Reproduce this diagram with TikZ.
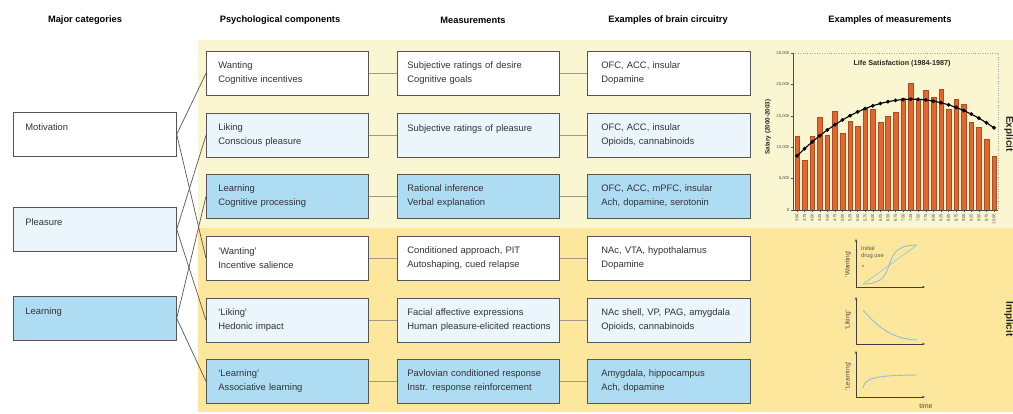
\documentclass[tikz,border=0pt]{standalone}
\usepackage{fontspec}
\setmainfont{Liberation Sans}
\usetikzlibrary{arrows.meta}
\definecolor{ylight}{HTML}{FBF6D2}
\definecolor{ydark}{HTML}{FCE79C}
\definecolor{blight}{HTML}{EAF5FC}
\definecolor{bmid}{HTML}{AEDCF2}
\definecolor{boxline}{HTML}{555555}
\definecolor{txt}{HTML}{333333}
\definecolor{barc}{HTML}{E4652D}
\definecolor{curvec}{HTML}{8DC0E3}
\definecolor{linkc}{HTML}{5E5550}
\definecolor{rowlink}{HTML}{A09888}
\begin{document}
\begin{tikzpicture}[x=1pt,y=-1pt,
  box/.style={draw=boxline, line width=0.7pt, minimum width=162pt, minimum height=44pt,
    text width=138pt, align=left, inner xsep=12pt, inner ysep=0pt, anchor=north west,
    font=\fontsize{9.4}{14}\selectfont, text=txt},
  wbox/.style={box, fill=white},
  lbox/.style={box, fill=blight},
  mbox/.style={box, fill=bmid},
  colc/.style={minimum width=163pt, text width=139pt},
  colm/.style={inner xsep=10pt, text width=142pt},
  colb/.style={minimum width=163pt, inner xsep=14pt, text width=135pt},
  head/.style={font=\bfseries\fontsize{9.3}{11}\selectfont, text=black},
  side/.style={font=\bfseries\fontsize{10}{12}\selectfont, text=black!85, rotate=-90},
  link/.style={draw=linkc, line width=0.7pt},
  rlink/.style={draw=rowlink, line width=0.6pt},
  tiny/.style={font=\fontsize{4.2}{5}\selectfont, text=black!70, inner sep=0.5pt},
  glabel/.style={font=\fontsize{6.5}{7}\selectfont, text=black!70, inner sep=0.5pt},
  gaxis/.style={draw=black!75, line width=0.6pt, -{Stealth[length=3pt,width=2.4pt]}},
  gcurve/.style={draw=curvec, line width=0.9pt},
]
\useasboundingbox (0,0) rectangle (1013,413);
\fill[white] (0,0) rectangle (1013,413);
% backgrounds
\fill[ylight] (198,40) rectangle (1013,228);
\fill[ydark] (198,228) rectangle (1013,412);

% headers
\node[head] (h1) at (85,20) {Major categories};
\node[head] (h2) at (280,20) {Psychological components};
\node[head] (h3) at (473,20) {Measurements};
\node[head] (h4) at (668,20) {Examples of brain circuitry};
\node[head] (h5) at (890,20) {Examples of measurements};

% major categories
\node[wbox, colc] (c1) at (13,112) {Motivation\\\mbox{}};
\node[lbox, colc] (c2) at (13,207) {Pleasure\\\mbox{}};
\node[mbox, colc] (c3) at (13,296) {Learning\\\mbox{}};

% psychological components
\node[wbox] (p1) at (206,51) {Wanting\\Cognitive incentives};
\node[lbox] (p2) at (206,113) {Liking\\Conscious pleasure};
\node[mbox] (p3) at (206,174) {Learning\\Cognitive processing};
\node[wbox] (p4) at (206,236) {‘Wanting’\\Incentive salience};
\node[lbox] (p5) at (206,298) {‘Liking’\\Hedonic impact};
\node[mbox] (p6) at (206,359) {‘Learning’\\Associative learning};

% measurements
\node[wbox, colm] (m1) at (397,51) {Subjective ratings of desire\\Cognitive goals};
\node[lbox, colm] (m2) at (397,113) {Subjective ratings of pleasure\\\mbox{}};
\node[mbox, colm] (m3) at (397,174) {Rational inference\\Verbal explanation};
\node[wbox, colm] (m4) at (397,236) {Conditioned approach, PIT\\Autoshaping, cued relapse};
\node[lbox, colm] (m5) at (397,298) {Facial affective expressions\\\mbox{Human pleasure-elicited reactions}};
\node[mbox, colm] (m6) at (397,359) {Pavlovian conditioned response\\Instr. response reinforcement};

% brain circuitry
\node[wbox, colb] (b1) at (587,51) {OFC, ACC, insular\\Dopamine};
\node[lbox, colb] (b2) at (587,113) {OFC, ACC, insular\\Opioids, cannabinoids};
\node[mbox, colb] (b3) at (587,174) {OFC, ACC, mPFC, insular\\Ach, dopamine, serotonin};
\node[wbox, colb] (b4) at (587,236) {NAc, VTA, hypothalamus\\Dopamine};
\node[lbox, colb] (b5) at (587,298) {NAc shell, VP, PAG, amygdala\\Opioids, cannabinoids};
\node[mbox, colb] (b6) at (587,359) {Amygdala, hippocampus\\Ach, dopamine};

% row links
\foreach \i in {1,...,6} {
  \draw[rlink] (p\i.east) -- (m\i.west);
  \draw[rlink] (m\i.east) -- (b\i.west);
}
% category links
\draw[link] (c1.east) -- (p1.west);
\draw[link] (c1.east) -- (p4.west);
\draw[link] (c2.east) -- (p2.west);
\draw[link] (c2.east) -- (p5.west);
\draw[link] (c3.east) -- (p3.west);
\draw[link] (c3.east) -- (p6.west);

% side labels
\node[side] (ex) at (1009,134) {Explicit};
\node[side] (im) at (1009,319) {Implicit};

% bar chart
\draw[black!35, line width=0.4pt, dotted] (793,53) -- (998,53) -- (998,210);
\foreach \v [count=\i] in {11.7,8.0,11.7,14.83,11.9,15.73,12.18,14.2,13.35,16.15,16.05,13.93,14.94,15.63,17.74,20.13,17.64,19.07,17.9,19.23,16.05,17.64,16.84,13.93,13.14,11.28,8.63} {
  \pgfmathsetmacro\xc{797+(\i-1)*7.577}
  \pgfmathsetmacro\yt{210-\v*6.28}
  \filldraw[fill=barc, draw=barc!75!black, line width=0.3pt] (\xc-2.3,210) rectangle (\xc+2.3,\yt);
}
\draw[black!70, line width=0.5pt] (793,53) -- (793,210) -- (998,210);
\foreach \t/\lab in {0/0,5/{5,000},10/{10,000},15/{15,000},20/{20,000},25/{25,000}} {
  \pgfmathsetmacro\yy{210-\t*6.28}
  \draw[black!70, line width=0.4pt] (791,\yy) -- (793,\yy);
  \node[tiny, anchor=east] at (790,\yy) {\lab};
}
\foreach \lab [count=\i] in {3.50,3.75,4.00,4.25,4.50,4.75,5.00,5.25,5.50,5.75,6.00,6.25,6.50,6.75,7.00,7.25,7.50,7.75,8.00,8.25,8.50,8.75,9.00,9.25,9.50,9.75,10.00} {
  \pgfmathsetmacro\xc{797+(\i-1)*7.577}
  \draw[black!70, line width=0.4pt] (\xc,210) -- (\xc,212);
  \node[tiny, rotate=90, anchor=east] at (\xc,213) {\lab};
}
\draw[black, line width=1.1pt] plot[domain=0:26, samples=27, mark=*, mark size=1.3pt, mark options={fill=black}]
  ({797+\x*7.577}, {210-(17.65-0.6256*(3.5+0.25*\x-7.3)*(3.5+0.25*\x-7.3))*6.28});
\node[font=\bfseries\fontsize{7.2}{8}\selectfont, text=black!85] (ct) at (902,64) {Life Satisfaction (1984-1987)};
\node[font=\bfseries\fontsize{6.3}{7}\selectfont, text=black!85, rotate=90] (cy) at (768,127) {Salary (2000-2003)};

% implicit graphs
\coordinate (o1) at (856,287);
\draw[gaxis] (o1) -- (856,239);
\draw[gaxis] (o1) -- (925,287);
\draw[gcurve, line width=0.6pt] (863,284) -- (917,245);
\draw[gcurve] (863,284) .. controls (903,284) and (875,245) .. (917,245);
\node[glabel, rotate=90] (lw) at (848,264) {‘Wanting’};
\node[font=\fontsize{5.8}{7.2}\selectfont, text=black!65, align=left, anchor=north west, inner sep=0pt] (idu) at (861,246) {Initial\\drug use};
\node[text=red!80!orange, font=\fontsize{6}{6}\selectfont, inner sep=0pt] (star) at (863,267) {*};

\coordinate (o2) at (856,344);
\draw[gaxis] (o2) -- (856,297);
\draw[gaxis] (o2) -- (925,344);
\draw[gcurve] (863,310) .. controls (880,330) and (895,339) .. (917,340);
\node[glabel, rotate=90] (ll) at (848,320) {‘Liking’};

\coordinate (o3) at (856,397);
\draw[gaxis] (o3) -- (856,351);
\draw[gaxis] (o3) -- (925,397);
\draw[gcurve] (863,388) .. controls (865,378) and (874,375.5) .. (917,375);
\node[glabel, rotate=90] (lr) at (848,376) {‘Learning’};
\node[font=\fontsize{7}{8}\selectfont, text=black!70, inner sep=0pt] (tm) at (926,406) {time};
\end{tikzpicture}
\end{document}
